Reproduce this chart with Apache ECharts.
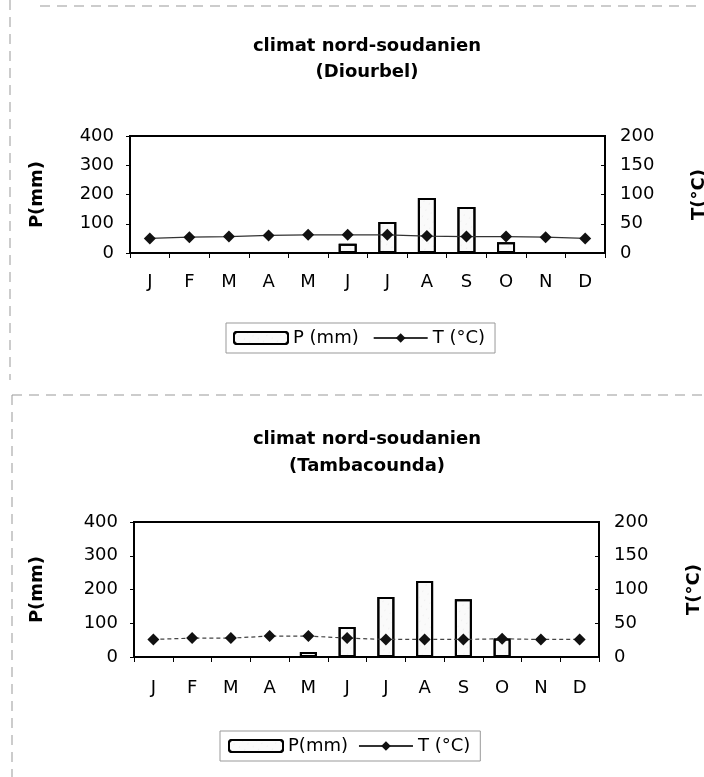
<!DOCTYPE html>
<html>
<head>
<meta charset="utf-8">
<script src="https://cdn.jsdelivr.net/npm/echarts@6/dist/echarts.min.js"></script>
<style>
html, body { margin: 0; padding: 0; background: #fff; }
#chart { width: 704px; height: 777px; }
</style>
</head>
<body>
<div id="chart"></div>
<script>
// data
const months = ['J', 'F', 'M', 'A', 'M', 'J', 'J', 'A', 'S', 'O', 'N', 'D'];
const diourbelP = [0, 0, 0, 0, 0, 32, 106, 188, 157, 37, 0, 0];
const diourbelT = [25, 27, 28, 30, 31, 31, 31, 29, 28, 28, 27, 25];
const tambaP = [0, 0, 0, 0, 15, 89, 178, 225, 171, 55, 0, 0];
const tambaT = [26, 28, 28, 31, 31, 28, 26, 26, 26, 27, 26, 26];
const pAxis = { min: 0, max: 400, interval: 100 };
const tAxis = { min: 0, max: 200, interval: 50 };

const font = '"DejaVu Sans", sans-serif';
const chart = echarts.init(document.getElementById('chart'));

const barStyle = {
  color: '#fafafa',
  borderColor: '#000',
  borderWidth: 2,
  decal: {
    symbol: 'circle',
    symbolSize: 0.6,
    color: 'rgba(0,0,0,0.3)',
    dashArrayX: [1, 5],
    dashArrayY: [2, 5],
    rotation: 0.5
  }
};

const xAxisOf = (gridIndex, margin) => ({
  type: 'category',
  gridIndex,
  data: months,
  axisLine: { lineStyle: { color: '#000', width: 2 } },
  axisTick: { show: true, length: 5, lineStyle: { color: '#000' } },
  axisLabel: { color: '#000', fontSize: 18, fontFamily: font, margin }
});

const leftAxisOf = (gridIndex, gap) => ({
  type: 'value',
  gridIndex,
  position: 'left',
  ...pAxis,
  name: 'P(mm)',
  nameLocation: 'middle',
  nameRotate: 90,
  nameGap: gap,
  nameTextStyle: { color: '#000', fontSize: 18, fontWeight: 'bold', fontFamily: font },
  splitLine: { show: false },
  axisLine: { show: true, lineStyle: { color: '#000', width: 2 } },
  axisTick: { show: true, length: 4, lineStyle: { color: '#000' } },
  axisLabel: { color: '#000', fontSize: 18, fontFamily: font, margin: 16 }
});

const rightAxisOf = (gridIndex, gap) => ({
  type: 'value',
  gridIndex,
  position: 'right',
  ...tAxis,
  name: 'T(°C)',
  nameLocation: 'middle',
  nameRotate: 90,
  nameGap: gap,
  nameTextStyle: { color: '#000', fontSize: 18, fontWeight: 'bold', fontFamily: font },
  splitLine: { show: false },
  axisLine: { show: true, lineStyle: { color: '#000', width: 2 } },
  axisTick: { show: true, inside: true, length: 4, lineStyle: { color: '#000' } },
  axisLabel: { color: '#000', fontSize: 18, fontFamily: font, margin: 15 }
});

const frame = (x1, y1, x2, y2) => ({
  type: 'line',
  silent: true,
  shape: { x1, y1, x2, y2 },
  style: { stroke: '#999', lineWidth: 1, lineDash: [10, 7] }
});

const titleText = (text, y) => ({
  type: 'text',
  x: 367,
  y,
  style: {
    text,
    textAlign: 'center',
    textVerticalAlign: 'middle',
    font: 'bold 18px "DejaVu Sans", sans-serif',
    fill: '#000'
  }
});

chart.setOption({
  animation: false,
  backgroundColor: '#fff',
  textStyle: { fontFamily: font },
  graphic: [
    frame(40, 6, 700, 6),
    frame(10, 0, 10, 380),
    frame(12, 395, 704, 395),
    frame(12, 395, 12, 777),
    titleText('climat nord-soudanien', 46),
    titleText('(Diourbel)', 72),
    titleText('climat nord-soudanien', 439),
    titleText('(Tambacounda)', 466)
  ],
  grid: [
    { left: 130, right: 99, top: 136, height: 117, outerBoundsMode: 'none', show: true, borderColor: '#000', borderWidth: 2 },
    { left: 134, right: 105, top: 522, height: 135, outerBoundsMode: 'none', show: true, borderColor: '#000', borderWidth: 2 }
  ],
  legend: [
    {
      data: ['P (mm)', 'T (°C)'],
      left: 226,
      top: 323,
      itemWidth: 54,
      itemHeight: 12,
      itemGap: 14,
      padding: [6, 10, 6, 7],
      borderColor: '#999',
      borderWidth: 1,
      textStyle: { color: '#000', fontSize: 18, fontFamily: font }
    },
    {
      data: ['P(mm)', 'T (°C)'],
      left: 220,
      top: 731,
      itemWidth: 54,
      itemHeight: 12,
      itemGap: 10,
      padding: [6, 10, 6, 8],
      borderColor: '#999',
      borderWidth: 1,
      textStyle: { color: '#000', fontSize: 18, fontFamily: font }
    }
  ],
  xAxis: [xAxisOf(0, 20), xAxisOf(1, 22)],
  yAxis: [leftAxisOf(0, 84), rightAxisOf(0, 85), leftAxisOf(1, 88), rightAxisOf(1, 86)],
  series: [
    {
      name: 'P (mm)',
      type: 'bar',
      xAxisIndex: 0,
      yAxisIndex: 0,
      barWidth: 18,
      data: diourbelP,
      itemStyle: barStyle
    },
    {
      name: 'T (°C)',
      type: 'line',
      xAxisIndex: 0,
      yAxisIndex: 1,
      data: diourbelT,
      symbol: 'diamond',
      symbolSize: 12,
      itemStyle: { color: '#111' },
      lineStyle: { color: '#333', width: 1.2 },
      z: 5
    },
    {
      name: 'P(mm)',
      type: 'bar',
      xAxisIndex: 1,
      yAxisIndex: 2,
      barWidth: 17,
      data: tambaP,
      itemStyle: barStyle
    },
    {
      name: 'T (°C)',
      type: 'line',
      xAxisIndex: 1,
      yAxisIndex: 3,
      data: tambaT,
      symbol: 'diamond',
      symbolSize: 12,
      itemStyle: { color: '#111' },
      lineStyle: { color: '#444', width: 1.2, type: [4, 3] },
      z: 5
    }
  ]
});
</script>
</body>
</html>
